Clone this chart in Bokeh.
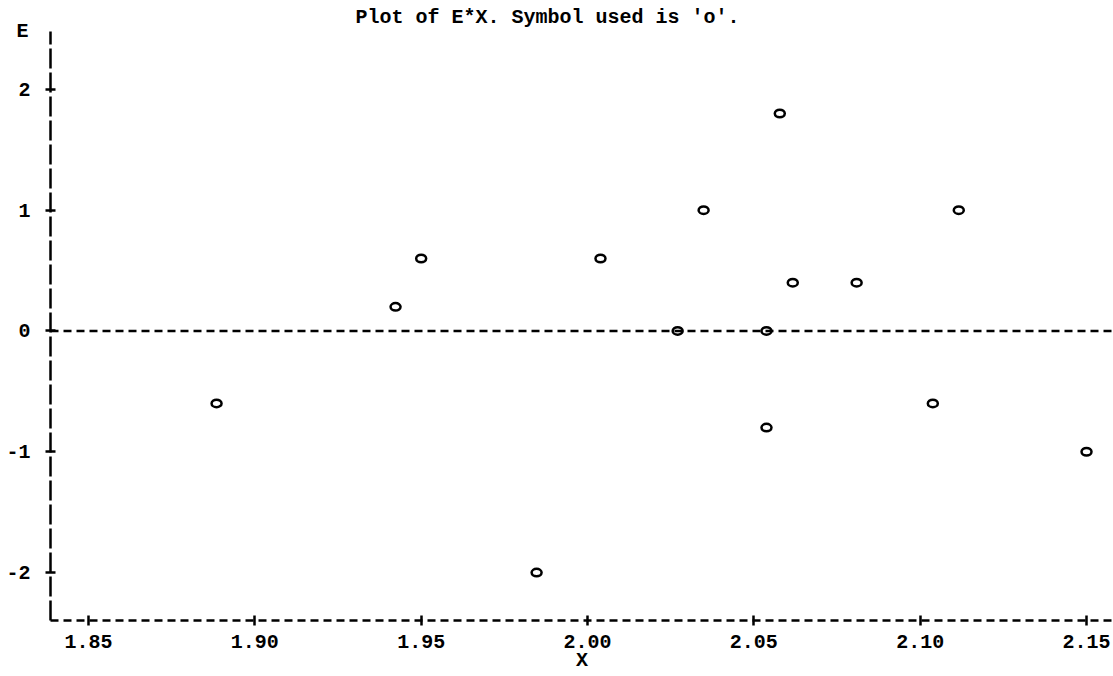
from bokeh.plotting import figure
from bokeh.models import (Range1d, FixedTicker, PrintfTickFormatter, Span,
                          ColumnDataSource)
from bokeh.embed import file_html
from bokeh.resources import INLINE

# ---- data ----
x_vals = [1.8885, 1.9423, 1.9500, 1.9847, 2.0039, 2.0271, 2.0349, 2.0538,
          2.0538, 2.0578, 2.0617, 2.0809, 2.1038, 2.1116, 2.1500]
e_vals = [-0.6, 0.2, 0.6, -2.0, 0.6, 0.0, 1.0, 0.0,
          -0.8, 1.8, 0.4, 0.4, -0.6, 1.0, -1.0]
x_ticks = [1.85, 1.90, 1.95, 2.00, 2.05, 2.10, 2.15]
y_ticks = [-2, -1, 0, 1, 2]
title_text = "Plot of E*X.  Symbol used is 'o'."
x_label = "X"
y_label = "E"

FONT = "Liberation Mono"
FS = "20px"

p = figure(width=1113, height=676,
           x_range=Range1d(1.83858, 2.15811), y_range=Range1d(-2.397, 2.479),
           output_backend="svg", toolbar_location=None,
           min_border_left=50, min_border_right=0,
           min_border_top=30, min_border_bottom=56)
p.background_fill_color = "white"
p.border_fill_color = "white"
p.outline_line_color = None
p.xgrid.visible = False
p.ygrid.visible = False

# title
p.title.text = title_text
p.title.text_font = FONT
p.title.text_font_size = FS
p.title.text_font_style = "bold"
p.title.text_color = "black"
p.title.align = "left"
p.title.offset = 305
p.title.standoff = 6

# x axis
xa = p.xaxis[0]
xa.ticker = FixedTicker(ticks=x_ticks, minor_ticks=[])
xa.formatter = PrintfTickFormatter(format="%.2f")
xa.axis_line_color = "black"
xa.axis_line_width = 2.5
xa.axis_line_dash = "8 5"
xa.major_tick_in = 5
xa.major_tick_out = 5
xa.major_tick_line_width = 2.5
xa.major_tick_line_color = "black"
xa.minor_tick_line_color = None
xa.major_label_standoff = 9
xa.major_label_text_font = FONT
xa.major_label_text_font_size = FS
xa.major_label_text_font_style = "bold"
xa.major_label_text_color = "black"
xa.axis_label = x_label
xa.axis_label_text_font = FONT
xa.axis_label_text_font_size = FS
xa.axis_label_text_font_style = "bold"
xa.axis_label_text_color = "black"
xa.axis_label_standoff = -2

# y axis
ya = p.yaxis[0]
ya.ticker = FixedTicker(ticks=y_ticks, minor_ticks=[])
ya.formatter = PrintfTickFormatter(format="%d")
ya.axis_line_color = "black"
ya.axis_line_width = 2.5
ya.axis_line_dash = "20 4"
ya.major_tick_in = 5
ya.major_tick_out = 5
ya.major_tick_line_width = 2.5
ya.major_tick_line_color = "black"
ya.minor_tick_line_color = None
ya.major_label_standoff = 15
ya.major_label_text_font = FONT
ya.major_label_text_font_size = FS
ya.major_label_text_font_style = "bold"
ya.major_label_text_color = "black"
ya.major_label_orientation = "horizontal"
# "E" label sits at the top of the vertical axis
ya.axis_label = y_label
ya.axis_label_text_font = FONT
ya.axis_label_text_font_size = FS
ya.axis_label_text_font_style = "bold"
ya.axis_label_text_color = "black"
ya.axis_label_orientation = "horizontal"
ya.axis_label_standoff = -25
if "axis_label_align" in ya.properties():
    ya.axis_label_align = "end"

# zero reference line
p.add_layout(Span(location=0, dimension="width", line_color="black",
                  line_width=2.5, line_dash="8 5"))

src = ColumnDataSource(data=dict(x=x_vals, e=e_vals))
p.ellipse(x="x", y="e", width=10, height=7.5, width_units="screen",
          height_units="screen", fill_color="white", line_color="black",
          line_width=2.5, source=src)

open("out.html", "w").write(file_html(p, INLINE))
